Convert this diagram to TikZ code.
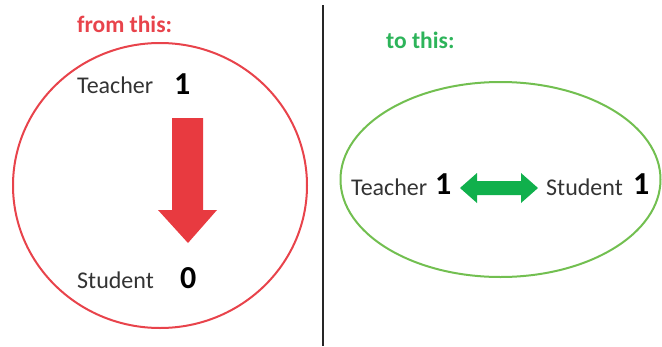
\documentclass[tikz,border=0pt]{standalone}
\usepackage{fontspec}
\setmainfont{Carlito}
\definecolor{redc}{HTML}{E8434B}
\definecolor{reda}{HTML}{E83A40}
\definecolor{greent}{HTML}{2DB45A}
\definecolor{greena}{HTML}{10B04C}
\definecolor{greene}{HTML}{72BF50}
\definecolor{txt}{HTML}{333333}
\begin{document}
\begin{tikzpicture}[x=1pt,y=-1pt,
  word/.style={inner sep=0pt,anchor=base west,text=txt,font=\fontsize{24}{27}\selectfont},
  num/.style={inner sep=0pt,anchor=base west,text=black,font=\fontsize{32}{36}\selectfont\bfseries},
  title/.style={inner sep=0pt,anchor=base west,font=\fontsize{23.5}{26}\selectfont\bfseries}]
\useasboundingbox (0,0) rectangle (662,346);
% divider
\draw[line width=2.5pt,color=black!85] (323,5) -- (323,346);
% left
\node[title,text=redc] (from) at (77,32) {from this:};
\draw[redc,line width=2pt] (160,185.5) ellipse [x radius=147pt,y radius=142.5pt];
\node[word] (t1) at (77,93) {Teacher};
\node[num] (n1) at (174,94) {1};
\node[word] (s1) at (77,288) {Student};
\node[num] (n0) at (180,288) {0};
\fill[reda] (172,118) -- (203,118) -- (203,210) -- (217,210) -- (188,243) -- (158,210) -- (172,210) -- cycle;
% right
\node[title,text=greent] (to) at (386,48) {to this:};
\draw[greene,line width=2pt] (500.5,179.5) ellipse [x radius=160pt,y radius=97.5pt];
\node[word] (t2) at (351,195) {Teacher};
\node[num] (n2) at (435,194) {1};
\node[word] (s2) at (546,195) {Student};
\node[num] (n3) at (633,194) {1};
\fill[greena] (460,188) -- (477,173) -- (477,181) -- (521,181) -- (521,173) -- (538,188) -- (521,203) -- (521,195) -- (477,195) -- (477,203) -- cycle;
\end{tikzpicture}
\end{document}
